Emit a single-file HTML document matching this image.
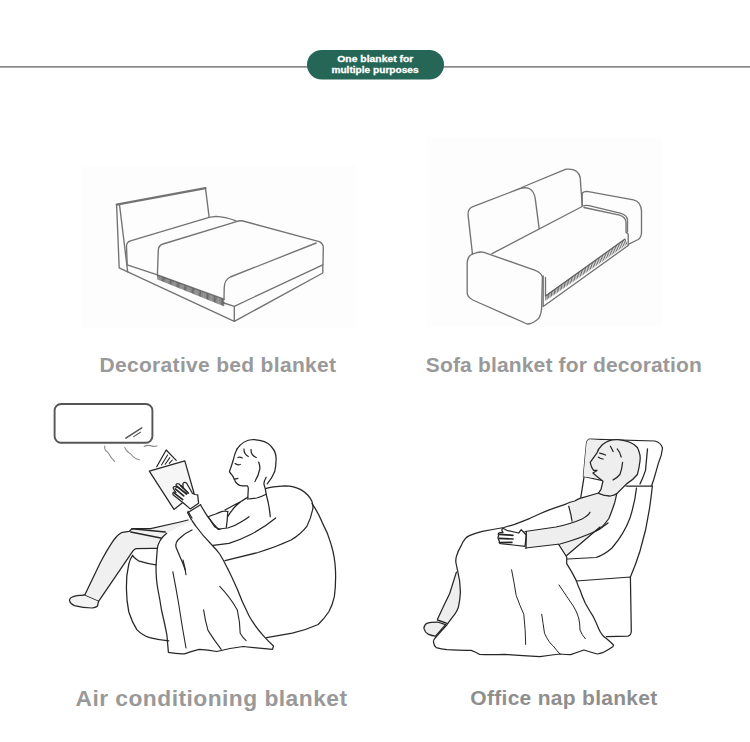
<!DOCTYPE html>
<html><head><meta charset="utf-8">
<style>
html,body{margin:0;padding:0;background:#fff;}
body{width:750px;height:742px;overflow:hidden;position:relative;font-family:"Liberation Sans",sans-serif;}
svg{position:absolute;left:0;top:0;}
.lbl{font-family:"Liberation Sans",sans-serif;font-weight:bold;fill:#999;}
.ln{fill:none;stroke:#737373;stroke-width:1.35;stroke-linecap:round;stroke-linejoin:round;}
.bk{fill:none;stroke:#2a2a2a;stroke-width:1.25;stroke-linecap:round;stroke-linejoin:round;}
</style></head>
<body>
<svg width="750" height="742" viewBox="0 0 750 742">
<rect x="82" y="165.5" width="274" height="163" fill="#fdfdfd"/>
<rect x="426.5" y="137" width="235.5" height="190" fill="#fdfdfd"/>
<rect x="0" y="66" width="750" height="1.7" fill="#888"/>
<rect x="307" y="50" width="137" height="29.6" rx="14.8" fill="#256656"/>
<text x="337.3" y="61.5" font-family="Liberation Sans" font-weight="bold" font-size="9.4" fill="#fff" stroke="#fff" stroke-width="0.3" textLength="76" lengthAdjust="spacingAndGlyphs">One blanket for</text>
<text x="331.4" y="73.4" font-family="Liberation Sans" font-weight="bold" font-size="9.4" fill="#fff" stroke="#fff" stroke-width="0.3" textLength="87.2" lengthAdjust="spacingAndGlyphs">multiple purposes</text>

<g class="ln">
<path d="M116.6,204.6 L205.5,188.1" stroke-width="2.2"/>
<path d="M205.5,188.1 L209.1,216.8"/>
<path d="M116.6,204.6 L119.2,267.9 L127.7,271.9 L119.6,205.3"/>
<path d="M127.2,264.8 L126.5,246 Q126.5,242 130.5,240.8 L209.1,217.4 L216,216.4 Q225,216.8 236,220.8"/>
<path d="M127.2,264.8 L157.4,274.8"/>
<path d="M127.7,271.9 L234.3,321.4 L322.8,273 L322.8,264.8 L234.3,306.3 L234.3,321.4"/>
<path d="M223.8,303 L234.3,306.3"/>
<path d="M157.4,274.8 L158.3,250 Q158.6,245.2 163,244 L236.5,221.6 Q239.5,220.4 243,221 L319.2,241.6 Q323.3,243.2 323.3,248 L323,264.8"/>
<path d="M316.2,243 L230.3,277 Q224.2,280 224.2,288 L224,299.2"/>
<path d="M157.4,274.8 L224,299.2"/>
</g>
<path d="M157.6,275.0L157.9,279.6M158.8,275.4L159.1,280.1M159.9,275.9L160.2,280.5M161.1,276.3L161.4,281.0M162.2,276.7L162.5,281.5M163.4,277.1L163.7,281.9M164.6,277.6L164.8,282.4M165.7,278.0L166.0,282.9M166.9,278.4L167.1,283.3M168.0,278.9L168.3,283.8M169.2,279.3L169.4,284.3M170.4,279.7L170.6,284.7M171.5,280.1L171.8,285.2M172.7,280.6L172.9,285.7M173.8,281.0L174.1,286.1M175.0,281.4L175.2,286.6M176.2,281.8L176.4,287.1M177.3,282.3L177.5,287.5M178.5,282.7L178.7,288.0M179.6,283.1L179.8,288.5M180.8,283.6L181.0,288.9M182.0,284.0L182.1,289.4M183.1,284.4L183.3,289.9M184.3,284.8L184.5,290.3M185.4,285.3L185.6,290.8M186.6,285.7L186.8,291.3M187.8,286.1L187.9,291.7M188.9,286.6L189.1,292.2M190.1,287.0L190.2,292.7M191.2,287.4L191.4,293.1M192.4,287.8L192.5,293.6M193.5,288.3L193.7,294.1M194.7,288.7L194.8,294.5M195.9,289.1L196.0,295.0M197.0,289.6L197.1,295.5M198.2,290.0L198.3,295.9M199.3,290.4L199.5,296.4M200.5,290.8L200.6,296.9M201.7,291.3L201.8,297.3M202.8,291.7L202.9,297.8M204.0,292.1L204.1,298.3M205.1,292.6L205.2,298.7M206.3,293.0L206.4,299.2M207.5,293.4L207.5,299.7M208.6,293.8L208.7,300.1M209.8,294.3L209.8,300.6M210.9,294.7L211.0,301.1M212.1,295.1L212.2,301.5M213.3,295.5L213.3,302.0M214.4,296.0L214.5,302.5M215.6,296.4L215.6,302.9M216.7,296.8L216.8,303.4M217.9,297.3L217.9,303.9M219.1,297.7L219.1,304.3M220.2,298.1L220.2,304.8M221.4,298.5L221.4,305.3M222.5,299.0L222.5,305.7M223.7,299.4L223.7,306.2" fill="none" stroke="#4c4c4c" stroke-width="0.85"/>
<g class="ln">
<path d="M472.5,254.4 L468,214.4 Q468,208 473.6,206.4 L520,188.5 Q533,185 535.2,198.4 L539.2,228.8"/>
<path d="M521.6,187.5 L566,169.2 Q578,168 580.2,177.5 L582.2,205.8"/>
<path d="M492,253.6 L582.2,206.5"/>
<path d="M582.2,205.8 L582.2,193.4 Q583,191.5 587,191.3 L633.5,199.8 Q641,201.5 641.5,211.2 L641.5,232.8 Q641,238 638.2,239.5 L628.7,244.2"/>
<path d="M583.5,205.8 Q585,205 589,205.6 L621,213.3 Q627,215 627.5,220 L627.5,232"/>
<path d="M584,207.5 L619.5,215.2 Q625.5,217 626,222 L626,232.5 L628.2,234 L628.2,245.5"/>
<path d="M467.2,292.8 L467.2,262.4 Q468,254 476,252.8 Q480,251.5 484,252.4 L535.2,270.4 Q541.6,273 542.4,277 L541.6,308.8 Q540.5,318 536.8,320 Q532,324 527.2,324 L472.8,300 Q467.2,297 467.2,292.8 Z"/>
<path d="M543.2,276 L543.2,306.5 L628.2,245.5"/>
<path d="M545.5,277.5 L545.5,296 L624.9,239.1"/>
</g>
<path d="M545.8,295.3L545.8,300.5M547.2,294.3L547.2,299.5M548.6,293.3L548.7,298.5M550.0,292.3L550.1,297.5M551.4,291.3L551.6,296.5M552.9,290.3L553.0,295.5M554.3,289.3L554.5,294.5M555.7,288.3L555.9,293.5M557.1,287.3L557.4,292.5M558.5,286.3L558.8,291.5M559.9,285.3L560.3,290.5M561.3,284.3L561.7,289.5M562.8,283.3L563.2,288.5M564.2,282.3L564.6,287.5M565.6,281.2L566.1,286.5M567.0,280.2L567.5,285.5M568.4,279.2L569.0,284.5M569.8,278.2L570.4,283.5M571.2,277.2L571.9,282.5M572.6,276.2L573.3,281.5M574.0,275.2L574.8,280.5M575.5,274.2L576.2,279.5M576.9,273.2L577.7,278.5M578.3,272.2L579.1,277.5M579.7,271.2L580.6,276.5M581.1,270.2L582.0,275.5M582.5,269.2L583.5,274.5M583.9,268.2L584.9,273.5M585.3,267.2L586.3,272.5M586.8,266.2L587.8,271.5M588.2,265.2L589.2,270.5M589.6,264.2L590.7,269.5M591.0,263.2L592.1,268.5M592.4,262.2L593.6,267.5M593.8,261.2L595.0,266.5M595.2,260.2L596.5,265.5M596.6,259.2L597.9,264.5M598.1,258.2L599.4,263.5M599.5,257.2L600.8,262.5M600.9,256.2L602.3,261.5M602.3,255.2L603.7,260.5M603.7,254.2L605.2,259.5M605.1,253.2L606.6,258.5M606.5,252.1L608.1,257.5M607.9,251.1L609.5,256.5M609.4,250.1L611.0,255.5M610.8,249.1L612.4,254.5M612.2,248.1L613.9,253.5M613.6,247.1L615.3,252.5M615.0,246.1L616.8,251.5M616.4,245.1L618.2,250.5M617.8,244.1L619.7,249.5M619.2,243.1L621.1,248.5M620.7,242.1L622.6,247.5M622.1,241.1L624.0,246.5M623.5,240.1L625.5,245.5M624.9,239.1L626.9,244.5" fill="none" stroke="#4a4a4a" stroke-width="0.8"/><!-- AC -->
<g class="ln" style="stroke:#555">
<rect x="54.6" y="404" width="97.8" height="38.8" rx="6.5" stroke-width="1.9"/>
<path d="M125.8,438.2 L141.8,427.8" stroke-width="1.4"/><path d="M133.6,436.6 L140.4,432.2" stroke-width="1.1"/>
<path d="M104.8,446 Q104,448.5 105.5,450.5 Q108,452 109,454 Q111,458 114.6,461.4 M124.8,447.6 Q126,450.5 128.5,452.5 Q131,453.5 132.5,456 Q135,459 139.4,459.8 M144.2,446.4 Q147,444.8 150,445.6 Q153,447 157,446" stroke="#8a8a8a" stroke-width="1.1"/>
</g>
<g class="bk" style="stroke:#262626">
<!-- head -->
<path d="M237,449 Q243,440 253,439.5 Q266,440 271,446.2 Q276.5,452 276.1,459.4 Q276,466 274.7,471.6 Q272,478.5 267.2,483.9"/>
<path d="M237,449 Q234.5,454 233.2,460.3 Q231.5,466 229.4,471.6 Q230.5,473.5 232.3,475.4 Q233.5,477 234.2,479.2 Q236,479 237.9,478.3"/>
<path d="M234.6,479.6 Q235,481 235.5,482 Q237.5,484.5 239.8,485.3 Q243.5,486 247.4,485.8 Q248.3,487 248.3,488.6 L247.8,498"/>
<path d="M244,449 Q243.6,453.5 248.3,456.5 M251.1,449.5 Q250.5,455 256.3,457.5 M237.9,457.5 Q240,456.8 242.2,458 M235.1,463.6 Q237.5,465.5 240.3,464.5 M258.7,462.2 Q260.5,467 259.6,469.7 Q258.5,476 254.9,481.5"/>
<path d="M266.2,477.3 Q264,481 263.9,483.9 Q264.5,486.5 265.3,488.6 L266.2,494.3 L268.1,502 Q269.5,509 270.3,516.7"/>
<path d="M247.4,499 Q252,498.7 256.8,498 Q262,496.5 266.2,494.3"/>
<!-- book -->
<path d="M149.3,471.1 L184.8,460.8 L194.1,493.5 L174,509.4 Z" fill="#f6f6f6"/>
<path d="M156.7,466.7 L166.2,450 L176.2,460.4" fill="#fff"/>
<path d="M167.6,455 L161.5,465 M169.8,457.6 L165.2,464.2 M172.3,460 L169.3,463.4" stroke-width="1.1"/>
<!-- hand -->
<path d="M190.2,508.9 L183.7,503.3 L174,495.5 Q171.5,493 174,492 L176,492.5 L173.5,489 Q172.5,486.5 175,486.5 L177,487.5 L176,485 Q176.5,483 179,484 L183,488 L183,483.5 Q184,481.5 186.5,483 L192.5,493.5 L195,494.5 L197.7,494.9 L198.6,503.3 Z" fill="#fff"/>
<path d="M175.3,488.9 L183.7,495.9 M177.1,486.5 L186.5,494 M180.9,485.6 L188.3,493.1 M174.3,493.1 L182.7,499.6" stroke-width="1.7"/>
<!-- sleeve / arm -->
<path d="M187.7,512.7 L200.5,504.7"/>
<path d="M187.7,512.7 Q191,520 195.7,526 Q203,536 211.7,544.7 Q216,549 219.7,554 Q224,561 227.7,568.7"/>
<path d="M200.5,504.7 Q204,511 207.7,516.7 Q213,524 218.3,529.3"/>
<path d="M218.3,529.3 Q223,528.5 227.7,528 Q235,526 241,522 Q246,519 249,516.7"/>
<path d="M213,545.3 Q221,544.5 229,543.3 Q240,540 251.7,534 Q265,527 275.7,518"/>
<!-- chest -->
<path d="M208.3,516.7 Q212,515 215.7,514 Q219,512.5 222.3,511.3 Q226,511 228,511.5 M225,510 Q234,505 242.3,500.7 Q245,499 247.7,497.5 M227.7,516.7 Q231,511 235.7,506 Q241,501 246.3,498 M227.7,512 Q227.5,520 226.3,527.3 M208.3,516.7 Q212,523 215,527 Q218,529 220,529"/>

<!-- bean bag -->
<path d="M265.5,488.6 Q272,486.5 285,485.8 Q294,486 300.8,489.6 Q309,494.5 312,501.6 Q313.5,506 312.8,509 Q311,518 307,526 Q301,534 291,540 Q276,547 258,552.5 Q240,557 225,560.7"/>
<path d="M312,503.6 Q318,512 322.5,523.1 Q328,533 331.2,544.7 Q335,557 335.5,570.6 Q336,585 334.4,596.4 Q332.5,605 329,611.5 Q324,619 318.2,624.5 Q306,630 292.3,633.1 Q279,635.5 266.6,637.7"/>

<!-- leg -->
<path d="M100,563.3 Q107,550 113.3,540.7 Q117,535 121.3,532.7 Q126,531.5 129.3,531.3 L132,528.7 Q140,528.5 150.7,528.7 L180,522 L188,520 L192,520.5 L166.7,533.3 Q161,538 160,540.7 Q157.5,545 157.3,548.7 Q146,548.3 136,548.6 Q134,550 132.8,551.2 L98.4,601.6 L84,595.2 Z" fill="#f0f0f0" stroke="none"/>
<path d="M84.3,595.9 L100,563.3 Q107,550 113.3,540.7 Q117,535 121.3,532.7 Q126,531.5 129.3,531.3 L132,528.7 Q140,528.5 150.7,528.7 L180,522 L188,520"/>
<path d="M98.4,601.6 L132.8,551.2 Q134.5,549 136,548.6 Q146,548.2 157,548.3"/>
<path d="M84,595.2 L98.4,601.6" stroke-width="1.6"/>
<path d="M132,528.7 L165.3,532 M130.7,532 L160.7,538" stroke-width="1.4"/>
<path d="M84,595.2 Q76,595.5 72.8,596.8 Q69,598.5 69.6,600.8 Q70.5,604 74.4,605.6 Q83,607.8 92,608 Q96.5,607.5 97.6,605.6 L98.4,601.6" fill="#f4f4f4"/>
<!-- bean bag left + seat -->
<path d="M132.8,555.2 Q129.5,560 128.8,564 Q126,576 126.4,588 Q126.5,601 128.8,612 Q132,622 136.8,629.6 Q142,635 149.6,637.6 Q159,640 168.8,640.8"/>
<path d="M132.8,556 Q135.5,559 138.4,560.8 Q147,563.5 156,564.8"/>
<!-- blanket -->
<path d="M166.7,533.3 Q162,537 160,540.7 Q157.5,545 157.3,548.7 L156,566 Q156,580 158,590 Q160,600 161.5,610 Q165,625 166.9,635 L168.4,652.4 Q176,654 184.5,653.8 Q192,651 199.2,649.4 Q208,650 216.8,651.5 Q230,648 243.2,646.5 Q258,648 272.5,649.4 L273.5,646 Q268,641 263.7,636.2 Q254,625 249,615.7 Q242,602 237.3,589.3 Q232,577 227.7,568.7"/>
<path d="M192,530 Q185,533 180,538 Q175,542 176,547.3 Q178,552 180,556.7 Q183,563 185.3,570"/>
<path d="M172.8,571.7 Q176,588 178.7,604 Q182,626 186,648 M203.6,609.9 Q205,620 208,630.4 Q214,640 221.2,649.4 M219.7,586.4 Q230,597 237.3,609.9 Q240,622 240.2,633.3 Q243,638 246.1,640.6 M183,560 Q185,567 186,574.7" stroke-width="1.1"/>
<path d="M188,511.3 Q190,515 192,518"/>
</g>
<!-- OFFICE -->
<g class="bk" style="stroke:#262626">
<!-- chair back -->
<path d="M584.2,475.8 L580.8,497.4"/>
<path d="M636.5,488 Q635,502 630,518 Q624,534 612,548 Q604,555 596,557.5 L567.6,559"/>
<path d="M652.4,486 Q651,498 650,505 Q647,528 640,551 Q636,564 630.4,577"/>
<path d="M576.3,581 L630.4,577 L631.3,631.3 Q631,635.5 628,636.2 L606.4,636.6"/>
<!-- headrest -->
<path d="M589.4,439.2 L654.8,441 Q661,442.5 662.5,448 Q662,455 658.4,463.2 Q656,472 653.6,480 L651.5,486 L626.6,486 L583.4,476.4 L586.4,444 Q587,440 589.4,439.2 Z" fill="#fff"/>
<path d="M589.4,439.2 L608,440.5 Q602,446 597.2,453.6 L593.6,458.4 L590,463.8 L592.4,466.8 L594.8,470.4 L593,471.6 L593.6,474 L599,478.8 L583.4,476.4 L586.4,444 Q587,440 589.4,439.2 Z" fill="#eee" stroke="none"/>
<path d="M647.5,448.9 Q646.5,460 645.5,470.4 Q643,478 640,483.9"/>
<!-- body fill -->
<path d="M568.7,506.3 L565.3,504.3 Q570,502 574.7,501 L580,498.3 L593.3,495 L598.7,493 L617.8,486 Q616.5,496 614.8,502.2 Q612,511 608.9,518.5 Q605,524 600,528.9 L596,531 L566.7,556 L560,544 L572,521 Z" fill="#eee" stroke="none"/>
<path d="M525,531.5 L556,527 Q572,523.5 582,519 Q588,516 590,512.3 L596,531 Q580,538.5 560,544 L525.7,548 Z" fill="#eee" stroke="none"/>
<!-- shoulder / torso lines -->
<path d="M565.3,504.3 Q570,502 574.7,501 Q578,499 580,498.3 Q590,495.5 598.7,493"/>
<path d="M598.7,493 Q603,495.5 610,495.5 Q614,495.3 616.7,493.7"/>
<path d="M617.8,486 Q616.5,496 614.8,502.2 Q612,511 608.9,518.5 Q605,524 600,528.9 L596,531"/>
<path d="M525,531.5 L556,527 Q572,523.5 582,519 Q588,516 590,512.3"/>
<path d="M525.7,548 L560,544 Q580,538.5 596,531 Q603,527 608,523"/>
<path d="M600,527 L566.7,555.5"/>
<path d="M568.7,506.3 Q571,514 572,521"/>
<!-- head -->
<path d="M602.3,444.8 Q609,439 618,439.6 Q632,441 637.4,447.5 Q641,455 640,461 Q639,469 637.4,474.5 Q633,480 626.6,483.9 L617.2,493.3 Q614,495.5 610.4,496 Q604,496 598.3,493.3 L601,489.3 L603,481.2 Q600,479 597,476.5 L592.9,473.1 L597,470.4 L593.6,470.4 L591.6,467.1 L590.2,462.3 L597,452.9 Q598,449 602.3,444.8 Z" fill="#eee"/>
<path d="M610.4,446.2 Q612,449 613.1,451.6 M617.2,448.9 Q620,452 621.2,457 M622.6,462.3 Q622,469 619.9,474.5 Q617,478 613.1,479.9 M598.4,457.2 Q600.5,458.8 603.2,459 M599.6,453.2 Q602.5,453.6 605.6,455"/>
<!-- hand -->
<path d="M502.7,528.3 Q504,529 506.7,530.3 L518.7,533 L521.3,529.7 L526.3,535 L525,546.3 L513.3,545 L500.7,543.7 Q498.5,543 499.5,541.8 L498.3,538.8 Q497.5,537 498.7,536 L498.2,534 Q498.5,532.5 500,532.5 L503,532.5 Q501,530 502.7,528.3 Z" fill="#fff"/>
<path d="M499.5,534.3 L513,535.3 M499,538.3 L513,539 M500.5,542.5 L512,542.3" stroke-width="1.7"/>
<path d="M526.3,531.7 L526,548.3"/>
<!-- leg -->
<path d="M456.4,572.1 Q453,583 449.6,593.7 Q443,607 437.5,619.3 L447,623.3 Q452,618 455,613.9 Q459,609 458.4,607.2 Q461,598 460.4,592.3 Q458,580 457.1,570.8 Z" fill="#eee" stroke="none"/>
<path d="M456.4,572.1 Q453,583 449.6,593.7 Q443,607 437.5,619.3"/>
<path d="M437.5,620 L447,623.3" stroke-width="1.4"/>
<path d="M437.5,622 Q430,622 426.7,623.3 Q423.5,626 424,628.7 Q425,632.5 428.1,634.1 Q432,635.8 435.5,636.1 L445.6,624.7 Z" fill="#eee"/>
<!-- blanket -->
<path d="M565.3,504.3 L553.3,508.3 Q546,511 540,513.7 Q535,516 530,518.3 Q522,521.5 514.7,524.3 Q509,526 503.9,527.5 Q492,529.5 482.3,531.3 Q475,533 469.4,535.6 Q466.5,537 465.1,538.8 Q462.5,542 460.8,546.4 Q458,551 456.5,556.1 Q455.5,559 455.9,562.5 Q456.5,566 457.5,570.1 Q460.5,582 460.4,592.3 Q460,600 458.4,607.2 Q457,611 455,613.9 Q451,619 447,624.7 Q441,631 436.2,636.8 Q433,640 433.5,642.2 Q434,646 436.2,647.6 Q441,649 447,649.6 Q460,650.5 471.2,650.3 Q476,652 479.3,654.3 Q490,655 504.9,654.3 Q520,655.5 540,656.7 Q550,655 560,654 Q566,654.5 570.7,654.7 Q578,652 584,650 Q590,652 597.3,654 Q600,653.5 602.7,652.7 Q608,650 612.7,646.7 Q614,645 613.3,644.7 Q610,641.5 606.7,638.7 Q604,637 602.7,635.3 Q600,632 598.7,628.7 Q596,622 593.3,616.7 Q589,610 585.3,603.3 Q582,596 580,590 Q578,586 576.3,580.6 Q572,572 566.7,563.7 L566.7,557 L558.7,544.3"/>
<path d="M511.6,569.8 Q514,582 516.2,595.5 Q520,606 523.8,614.3 Q525.5,630 525.7,644.5 M541.7,614.3 Q543,623 544.5,633.2 Q549,643 553.3,646 Q557,651 560,654 M559,584.9 Q567,597 573.3,606 Q577,612 578.7,618 Q580,624 580,630 Q582,635 585.3,638.7" stroke-width="1"/>
</g>

<text class="lbl" x="99.5" y="371.8" font-size="21" textLength="236.5" lengthAdjust="spacing">Decorative bed blanket</text>
<text class="lbl" x="425.8" y="371.8" font-size="21" textLength="276" lengthAdjust="spacing">Sofa blanket for decoration</text>
<text class="lbl" x="75.5" y="705.7" font-size="22.8" textLength="271.5" lengthAdjust="spacing">Air conditioning blanket</text>
<text class="lbl" x="470.3" y="704.7" font-size="21" textLength="187" lengthAdjust="spacing" style="fill:#8e8e8e">Office nap blanket</text>
</svg>
</body></html>
